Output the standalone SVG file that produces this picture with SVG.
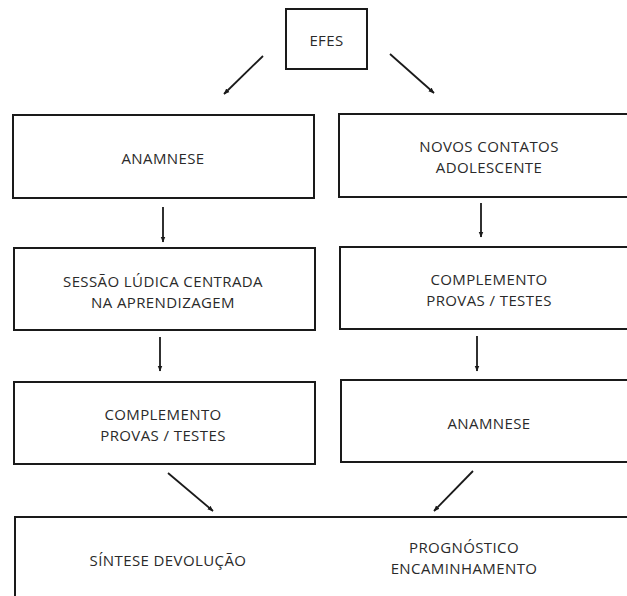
<svg xmlns="http://www.w3.org/2000/svg" width="627" height="596" viewBox="0 0 627 596">
<defs>
<marker id="ah" viewBox="0 0 10 10" refX="9" refY="5" markerWidth="6" markerHeight="6" markerUnits="userSpaceOnUse" orient="auto">
<path d="M0,1 L10,5 L0,9 Z" fill="#1a1a1a"/>
</marker>
</defs>
<style>
.box{fill:#fff;stroke:#1a1a1a;stroke-width:2}
.t{font-family:"Open Sans","Liberation Sans",sans-serif;font-size:15px;letter-spacing:0.4px;fill:#2a2a2a;text-anchor:middle;dominant-baseline:central}
.c{stroke:#1a1a1a;stroke-width:1.8;fill:none;marker-end:url(#ah)}
</style>
<rect width="627" height="596" fill="#fff"/>
<g id="efes"><rect class="box" x="286" y="9" width="81" height="60"/><text class="t" x="326.5" y="40">EFES</text></g>
<g id="anamnese1"><rect class="box" x="13" y="115" width="301" height="83"/><text class="t" x="163" y="158">ANAMNESE</text></g>
<g id="novos"><rect class="box" x="339" y="114" width="300" height="83"/><text class="t" x="489" y="145.5">NOVOS CONTATOS</text><text class="t" x="489" y="166.5">ADOLESCENTE</text></g>
<g id="sessao"><rect class="box" x="14" y="248" width="301" height="82"/><text class="t" x="163" y="280.5">SESSÃO LÚDICA CENTRADA</text><text class="t" x="163" y="301.5">NA APRENDIZAGEM</text></g>
<g id="complemento1"><rect class="box" x="340" y="247" width="300" height="82"/><text class="t" x="489" y="278.5">COMPLEMENTO</text><text class="t" x="489" y="299.5">PROVAS / TESTES</text></g>
<g id="complemento2"><rect class="box" x="14" y="382" width="301" height="82"/><text class="t" x="163" y="413.5">COMPLEMENTO</text><text class="t" x="163" y="434.5">PROVAS / TESTES</text></g>
<g id="anamnese2"><rect class="box" x="341" y="380" width="300" height="82"/><text class="t" x="489" y="423">ANAMNESE</text></g>
<g id="sintese"><rect class="box" x="15" y="517" width="630" height="100"/><text class="t" x="168" y="560">SÍNTESE DEVOLUÇÃO</text><text class="t" x="464" y="547">PROGNÓSTICO</text><text class="t" x="464" y="568">ENCAMINHAMENTO</text></g>
<g id="connectors">
<line class="c" x1="263" y1="56" x2="224" y2="94"/>
<line class="c" x1="390" y1="54" x2="434" y2="93"/>
<line class="c" x1="163" y1="207" x2="163" y2="242"/>
<line class="c" x1="481" y1="203" x2="481" y2="237"/>
<line class="c" x1="160" y1="337" x2="160" y2="371"/>
<line class="c" x1="477" y1="336" x2="477" y2="371"/>
<line class="c" x1="168" y1="473" x2="213" y2="511"/>
<line class="c" x1="473" y1="471" x2="434" y2="511"/>
</g>
</svg>
